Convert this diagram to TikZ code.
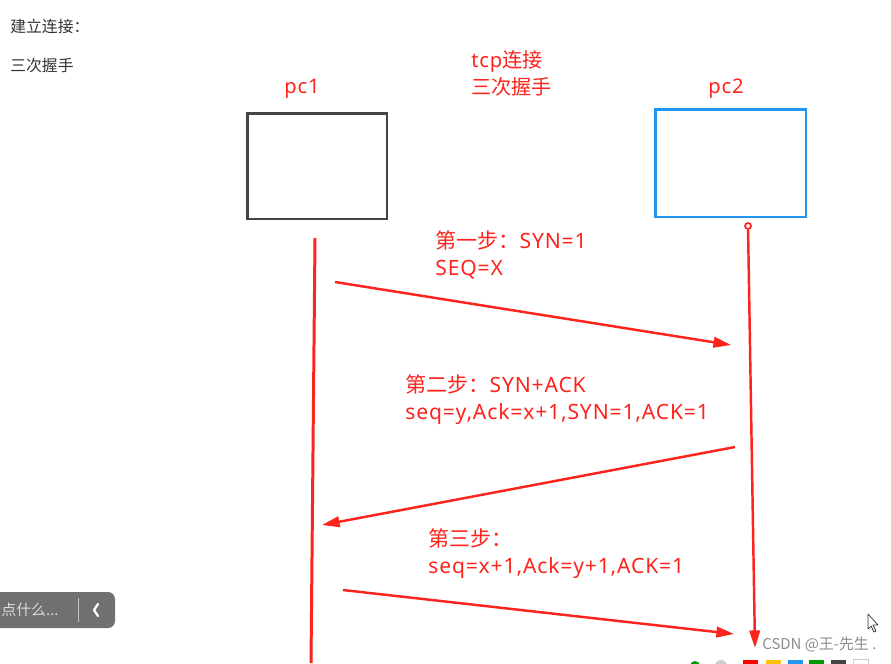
\documentclass[tikz,border=0pt]{standalone}
\usepackage{fontspec}
\setmainfont{Noto Sans CJK SC}
\newfontfamily\latn[LetterSpace=4]{Noto Sans}
\usetikzlibrary{arrows.meta,calc}
\definecolor{penred}{RGB}{252,36,28}
\definecolor{boxgray}{RGB}{68,68,68}
\definecolor{boxblue}{RGB}{33,150,243}
\definecolor{barGray}{RGB}{112,112,112}
\definecolor{amber}{RGB}{255,193,7}

\begin{document}
\begin{tikzpicture}[x=0.02cm, y=-0.02cm, >={Triangle[length=10pt,width=6pt]}, font=\fontsize{12}{15.3}\selectfont]
	\tikzset{lbl/.style={text=penred, anchor=west, inner sep=0pt, align=left},
		note/.style={text=black!80, anchor=west, inner sep=0pt, font=\fontsize{9}{10}\selectfont},
		hostbox/.style={draw, line width=1.7pt, inner sep=0pt},
		pen/.style={draw=penred, line width=1.4pt},
		swatch/.style={minimum size=0.3cm, inner sep=0pt}}
	\useasboundingbox (0,0) rectangle (891,663);
	% page notes
	\node[note] (t1) at (10,26) {建立连接：};
	\node[note] (t2) at (10,66) {三次握手};
	\node[lbl, align=left, font=\fontsize{11.5}{15.3}\selectfont] (title) at (471,73) {{\latn tcp}连接\\三次握手};
	% hosts
	\node[hostbox, draw=boxgray, minimum width=2.8cm, minimum height=2.12cm] (pc1) at (317,166) {};
	\node[hostbox, draw=boxblue, minimum width=3.02cm, minimum height=2.16cm] (pc2) at (730.5,163) {};
	\node[lbl, font=\latn\fontsize{11.5}{14}\selectfont] (pc1lbl) at (284,89) {pc1};
	\node[lbl, font=\latn\fontsize{11.5}{14}\selectfont] (pc2lbl) at (708,89) {pc2};
	\node[draw=penred, circle, line width=1pt, minimum size=0.12cm, inner sep=0pt] (dot2) at (748,226) {};
	% lifelines
	\coordinate (l1top) at (315,238);
	\coordinate (l1bot) at (311,663);
	\coordinate (l2bot) at (755,648);
	\draw[pen, line width=1.7pt] (l1top) -- (l1bot);
	\draw[pen, ->] (dot2) -- (l2bot);
	% messages
	\coordinate (s1) at (335,282); \coordinate (e1) at (731,345);
	\coordinate (s2) at (735,447); \coordinate (e2) at (322,525);
	\coordinate (s3) at (343,590); \coordinate (e3) at (734,634);
	\draw[pen, ->] (s1) -- (e1);
	\draw[pen, ->] (s2) -- (e2);
	\draw[pen, ->] (s3) -- (e3);
	\node[lbl] (m1) at (435,255) {第一步：{\latn SYN=1}\\{\latn SEQ=X}};
	\node[lbl] (m2) at (405,400) {第二步：{\latn SYN+ACK}\\{\latn seq=y,Ack=x+1,SYN=1,ACK=1}};
	\node[lbl] (m3) at (428,554) {第三步：\\{\latn seq=x+1,Ack=y+1,ACK=1}};
	% editor toolbar
	\fill[barGray, rounded corners=4pt] (-10,592) rectangle (115,628);
	\node[anchor=west, inner sep=0pt, text=white!85!black, font=\fontsize{8.5}{10}\selectfont] (hint) at (1,610) {点什么...};
	\draw[white!60!barGray] (78,598) -- (78,622);
	\draw[white, line width=1.3pt, line cap=round, line join=round] (98,604) -- (94,610) -- (98,616);
	% colour picker
	\fill[green!60!black] (695,666) circle (5);
	\fill[black!20] (721,666) circle (6);
	\node[swatch, fill=red] (c1) at (750,667) {};
	\node[swatch, fill=amber] (c2) at (773,667) {};
	\node[swatch, fill=boxblue] (c3) at (795,667) {};
	\node[swatch, fill=green!60!black] (c4) at (816,667) {};
	\node[swatch, fill=boxgray] (c5) at (838,667) {};
	\node[swatch, draw=black!20, fill=white] (c6) at (861,667) {};
	\node[anchor=west, inner sep=0pt, text=black!45, font=\fontsize{8.5}{10}\selectfont] (wm) at (762,645) {CSDN @王-先生 .};
	% cursor
	\filldraw[fill=white, draw=black!80, line width=0.4pt, line join=round] (868,614) -- (868,629) -- (871,626) -- (874,632) -- (876,631) -- (873,625) -- (878,625) -- cycle;
\end{tikzpicture}
\end{document}
